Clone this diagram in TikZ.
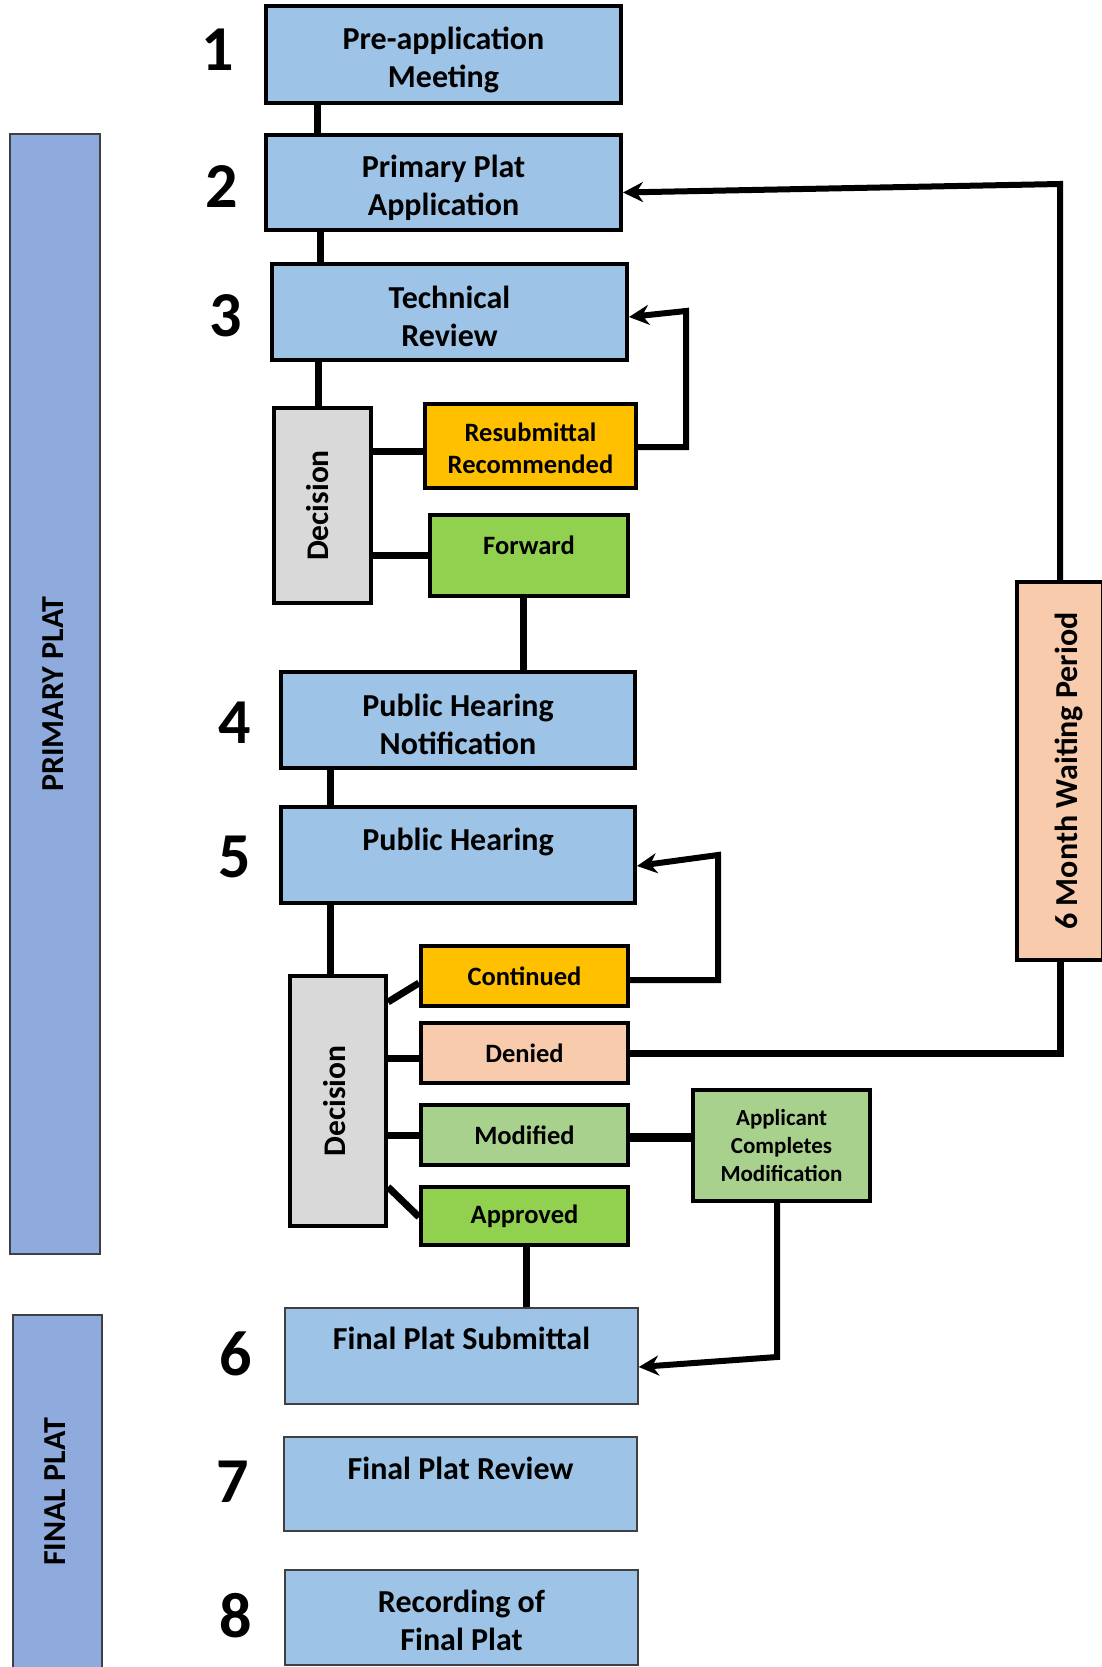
\documentclass[tikz,border=0pt]{standalone}
\usepackage{fontspec}
\setmainfont{Carlito}
\usepackage{graphicx}
\usetikzlibrary{arrows.meta}
\definecolor{bxblue}{HTML}{9DC3E6}
\definecolor{barblue}{HTML}{8FAADC}
\definecolor{bxorange}{HTML}{FFC000}
\definecolor{bxgreen}{HTML}{92D050}
\definecolor{bxlgreen}{HTML}{A9D18E}
\definecolor{bxpeach}{HTML}{F8CBAD}
\definecolor{bxgray}{HTML}{D9D9D9}
\newcommand\dnstrut[1]{\rule{0pt}{#1}}
\begin{document}
\begin{tikzpicture}[x=1pt,y=-1pt,
  box/.style={draw=black, line width=4pt, inner sep=0pt, align=center, text=black},
  thinbox/.style={draw=black!75, line width=1.5pt, inner sep=0pt, align=center, text=black},
  big/.style={font=\bfseries\fontsize{32}{38}\selectfont},
  mid/.style={font=\bfseries\fontsize{26.5}{32}\selectfont},
  sml/.style={font=\bfseries\fontsize{23}{28}\selectfont},
  num/.style={font=\bfseries\fontsize{64}{64}\selectfont, inner sep=0pt},
  conn/.style={line width=7pt},
  arr/.style={line width=6pt, -{Stealth[length=20pt,width=20pt]}},
]
\useasboundingbox (0,0) rectangle (1101,1667);

% side bars
\node[thinbox, fill=barblue, minimum width=90pt, minimum height=1120pt] (pbar) at (55,694)
  {\rotatebox{90}{\rule[-4pt]{0pt}{0pt}\bfseries\fontsize{32}{32}\selectfont PRIMARY PLAT}};
\node[thinbox, fill=barblue, minimum width=89pt, minimum height=354pt] (fbar) at (57.5,1492)
  {\rotatebox{90}{\rule[-4pt]{0pt}{0pt}\bfseries\fontsize{32}{32}\selectfont FINAL PLAT}};

% main steps
\node[box, big, fill=bxblue, minimum width=355pt, minimum height=97pt] (pam) at (443.5,54.5) {\dnstrut{34pt}Pre-application\\Meeting};
\node[box, big, fill=bxblue, minimum width=355pt, minimum height=95pt] (ppa) at (443.5,182.5) {\dnstrut{34pt}Primary Plat\\Application};
\node[box, big, fill=bxblue, minimum width=355pt, minimum height=96pt] (tr) at (449.5,312) {\dnstrut{32pt}Technical\\Review};
\node[box, fill=bxgray, minimum width=97pt, minimum height=195pt] (dec1) at (322.5,505.5)
  {\rotatebox{90}{\rule[-10pt]{0pt}{0pt}\bfseries\fontsize{31.5}{31.5}\selectfont Decision}};
\node[box, mid, fill=bxorange, minimum width=211pt, minimum height=84pt] (resub) at (530.5,446) {\dnstrut{24pt}Resubmittal\\Recommended};
\node[box, mid, fill=bxgreen, minimum width=198pt, minimum height=81pt, text height=18pt, text depth=21pt] (fwd) at (529,555.5) {Forward};
\node[box, big, fill=bxblue, minimum width=354pt, minimum height=96pt] (phn) at (458,720) {\dnstrut{31pt}Public Hearing\\Notification};
\node[box, big, fill=bxblue, minimum width=354pt, minimum height=96pt, text height=22pt, text depth=32pt] (ph) at (458,855) {Public Hearing};
\node[box, fill=bxgray, minimum width=96pt, minimum height=250pt] (dec2) at (338,1101)
  {\rotatebox{90}{\rule[-7pt]{0pt}{0pt}\bfseries\fontsize{31.5}{31.5}\selectfont Decision}};
\node[box, mid, fill=bxorange, minimum width=207pt, minimum height=60pt] (cont) at (524.5,976) {Continued};
\node[box, mid, fill=bxpeach, minimum width=207pt, minimum height=60pt] (den) at (524.5,1053) {Denied};
\node[box, mid, fill=bxlgreen, minimum width=207pt, minimum height=60pt] (mod) at (524.5,1135) {Modified};
\node[box, mid, fill=bxgreen, minimum width=207pt, minimum height=58pt] (appr) at (524.5,1216) {Approved};
\node[box, sml, fill=bxlgreen, minimum width=177pt, minimum height=111pt] (acm) at (781.5,1145.5) {Applicant\\Completes\\Modification};
\node[box, fill=bxpeach, minimum width=86pt, minimum height=378pt] (wait) at (1060,771)
  {\rotatebox{90}{\rule{0pt}{41pt}\bfseries\fontsize{32}{32}\selectfont 6 Month Waiting Period}};
\node[thinbox, big, fill=bxblue, minimum width=353pt, minimum height=96pt, text height=22pt, text depth=36pt] (fps) at (461.5,1356) {Final Plat Submittal};
\node[thinbox, big, fill=bxblue, minimum width=353pt, minimum height=94pt, text height=22pt, text depth=32pt] (fpr) at (460.5,1484) {Final Plat Review};
\node[thinbox, big, fill=bxblue, minimum width=353pt, minimum height=95pt] (rec) at (461.5,1617.5) {\dnstrut{28pt}Recording of\\Final Plat};

% step numbers
\node[num] (n1) at (218,50) {1};
\node[num] (n2) at (222,187) {2};
\node[num] (n3) at (226,316) {3};
\node[num] (n4) at (235,723) {4};
\node[num] (n5) at (235,857) {5};
\node[num] (n6) at (236,1354) {6};
\node[num] (n7) at (233,1482) {7};
\node[num] (n8) at (236,1616) {8};

% connectors
\draw[conn] (pam.south -| 317,0) -- (ppa.north -| 317,0);
\draw[conn] (ppa.south -| 320,0) -- (tr.north -| 320,0);
\draw[conn] (tr.south -| 318,0) -- (dec1.north -| 318,0);
\draw[conn] (dec1.east |- 0,451) -- (resub.west |- 0,451);
\draw[conn] (dec1.east |- fwd.west) -- (fwd.west);
\draw[conn] (fwd.south -| 523,0) -- (phn.north -| 523,0);
\draw[conn] (phn.south -| 330,0) -- (ph.north -| 330,0);
\draw[conn] (ph.south -| 330,0) -- (dec2.north -| 330,0);
\draw[conn] (dec2.east |- 0,1002) -- (cont.west |- 0,983);
\draw[conn] (dec2.east |- 0,1058) -- (den.west |- 0,1058);
\draw[conn] (dec2.east |- mod.west) -- (mod.west);
\draw[conn] (dec2.east |- 0,1187) -- (appr.west |- 0,1217);
\draw[conn] (appr.south -| 526,0) -- (fps.north -| 526,0);
\draw[line width=9pt] (mod.east |- 0,1137) -- (acm.west |- 0,1137);

% loops and returns
\draw[arr] (resub.east |- 0,447) -- (686,447) -- (686,311) -- ([yshift=-5pt]tr.east);
\draw[arr] (cont.east |- 0,980) -- (718,980) -- (718,855) -- ([yshift=-11pt]ph.east);
\draw[arr] (acm.south -| 777,0) -- (777,1357) -- ([yshift=-11pt]fps.east);
\draw[conn] (den.east) -- (wait.south |- den.east) -- (wait.south);
\draw[arr] (wait.north) -- (wait.north |- 0,184) -- ([yshift=-10pt]ppa.east);
\end{tikzpicture}
\end{document}
